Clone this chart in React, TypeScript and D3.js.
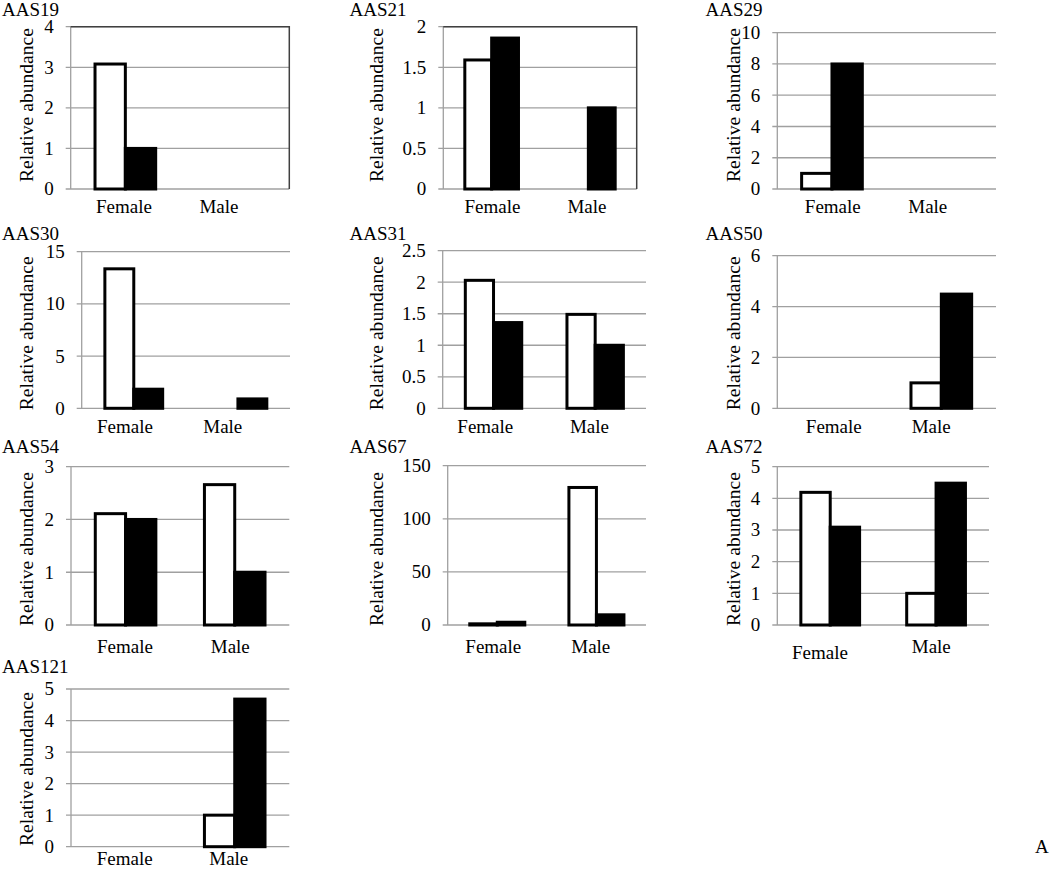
import React from "react";
import * as d3 from "d3";

// ---- data ----
const panelNames = ["AAS19", "AAS21", "AAS29", "AAS30", "AAS31", "AAS50", "AAS54", "AAS67", "AAS72", "AAS121"];
const categories = ["Female", "Male"];
// open (white) bars: [Female, Male]
const openValues = [
  [3.08, 0], [1.59, 0], [1.0, 0], [13.36, 0], [2.03, 1.49],
  [0, 1.0], [2.11, 2.66], [1.1, 129.5], [4.19, 1.0], [0, 1.0],
];
// filled (black) bars: [Female, Male]
const filledValues = [
  [1.0, 0], [1.86, 1.0], [8.0, 0], [1.83, 0.9], [1.36, 1.0],
  [0, 4.49], [2.0, 1.0], [2.6, 9.6], [3.09, 4.48], [0, 4.68],
];
const yMaxes = [4, 2, 10, 15, 2.5, 6, 3, 150, 5, 5];
const yTickSteps = [1, 0.5, 2, 5, 0.5, 2, 1, 50, 1, 1];
const yAxisTitle = "Relative abundance";
const cornerLabel = "A";

// ---- layout (positions only) ----
type Box = { l: number; t: number; r: number; b: number; box: boolean; col: number; row: number; lx: number[]; ly: number[] };
const layout: Box[] = [
  { l: 70.7, t: 26.7, r: 289.3, b: 189, box: true, col: 0, row: 0, lx: [124, 219], ly: [212.7, 212.7] },
  { l: 443.3, t: 26.7, r: 636.7, b: 189, box: true, col: 1, row: 0, lx: [492.5, 587], ly: [212.7, 212.7] },
  { l: 777.3, t: 32.7, r: 996, b: 189, box: false, col: 2, row: 0, lx: [832.8, 927.8], ly: [212.7, 212.7] },
  { l: 81.7, t: 251.7, r: 290, b: 408.3, box: false, col: 0, row: 1, lx: [125, 222.8], ly: [432.7, 432.7] },
  { l: 442.7, t: 250.7, r: 646, b: 408.3, box: false, col: 1, row: 1, lx: [485.3, 589.5], ly: [432.7, 432.7] },
  { l: 777.3, t: 255.7, r: 996, b: 408.3, box: false, col: 2, row: 1, lx: [833.8, 931.2], ly: [432.7, 432.7] },
  { l: 71, t: 466.7, r: 289.3, b: 625, box: false, col: 0, row: 2, lx: [125, 230.3], ly: [652.7, 652.7] },
  { l: 447.7, t: 465.7, r: 646, b: 625, box: false, col: 1, row: 2, lx: [493.3, 590.8], ly: [652.7, 652.7] },
  { l: 777.3, t: 466.7, r: 989, b: 625, box: false, col: 2, row: 2, lx: [820, 931.3], ly: [659.3, 652.7] },
  { l: 71, t: 689, r: 289.3, b: 846.7, box: false, col: 0, row: 3, lx: [124.7, 228.8], ly: [865, 865] },
];
const colTitleX = [2, 349.5, 705.5];
const colYTitleX = [33.3, 382.7, 740];
const rowTitleY = [15.5, 240, 453.3, 673.3];
const rowYTitleCy = [105, 333.3, 549, 769];

const FONT = "Liberation Serif, DejaVu Serif, serif";
const GRID = "#a0a0a0";
const BORDER = "#404040";

function fmt(v: number) {
  return String(+v.toFixed(2));
}

function Panel({ i }: { i: number }) {
  const L = layout[i];
  const y = d3.scaleLinear().domain([0, yMaxes[i]]).range([L.b, L.t]);
  const ticks = d3.range(0, yMaxes[i] + yTickSteps[i] / 2, yTickSteps[i]);
  const x = d3
    .scaleBand<string>()
    .domain(categories)
    .range([L.l, L.r])
    .paddingInner(0.445)
    .paddingOuter(0.2225);
  const sub = d3.scaleBand<string>().domain(["open", "filled"]).range([0, x.bandwidth()]);

  return (
    <g>
      <text x={colTitleX[L.col]} y={rowTitleY[L.row]} fontSize={19} fill="#000">
        {panelNames[i]}
      </text>
      <text
        transform={`translate(${colYTitleX[L.col]},${rowYTitleCy[L.row]}) rotate(-90)`}
        textAnchor="middle"
        fontSize={19.6}
        fill="#000"
      >
        {yAxisTitle}
      </text>
      {ticks.map((t) => (
        <g key={t}>
          <line x1={L.l - 5} x2={L.r} y1={y(t)} y2={y(t)} stroke={GRID} strokeWidth={1.3} />
          <text x={L.l - 17} y={y(t)} dy="0.34em" textAnchor="end" fontSize={19} fill="#000">
            {fmt(t)}
          </text>
        </g>
      ))}
      <line x1={L.l} x2={L.l} y1={L.t} y2={L.b} stroke={GRID} strokeWidth={1.3} />
      {L.box && (
        <path d={`M${L.l},${L.t}H${L.r}V${L.b}`} fill="none" stroke={BORDER} strokeWidth={1.5} />
      )}
      {categories.map((c, ci) => {
        const x0 = x(c)!;
        const ov = openValues[i][ci];
        const fv = filledValues[i][ci];
        return (
          <g key={c}>
            {ov > 0 && (
              <rect
                x={x0 + sub("open")!}
                y={y(ov)}
                width={sub.bandwidth()}
                height={y(0) - y(ov)}
                fill="#fff"
                stroke="#000"
                strokeWidth={3}
              />
            )}
            {fv > 0 && (
              <rect
                x={x0 + sub("filled")!}
                y={y(fv)}
                width={sub.bandwidth()}
                height={y(0) - y(fv)}
                fill="#000"
                stroke="#000"
                strokeWidth={3}
              />
            )}
          </g>
        );
      })}
      {categories.map((c, ci) => (
        <text key={c} x={L.lx[ci]} y={L.ly[ci]} textAnchor="middle" fontSize={19} fill="#000">
          {c}
        </text>
      ))}
    </g>
  );
}

export default function App() {
  return (
    <svg
      width={1050}
      height={869}
      viewBox="0 0 1050 869"
      fontFamily={FONT}
      style={{ position: "absolute", left: 0, top: 0, background: "#fff" }}
    >
      <rect x={0} y={0} width={1050} height={869} fill="#fff" />
      {panelNames.map((_, i) => (
        <Panel key={i} i={i} />
      ))}
      <text x={1035} y={853} fontSize={19} fill="#000">
        {cornerLabel}
      </text>
    </svg>
  );
}
